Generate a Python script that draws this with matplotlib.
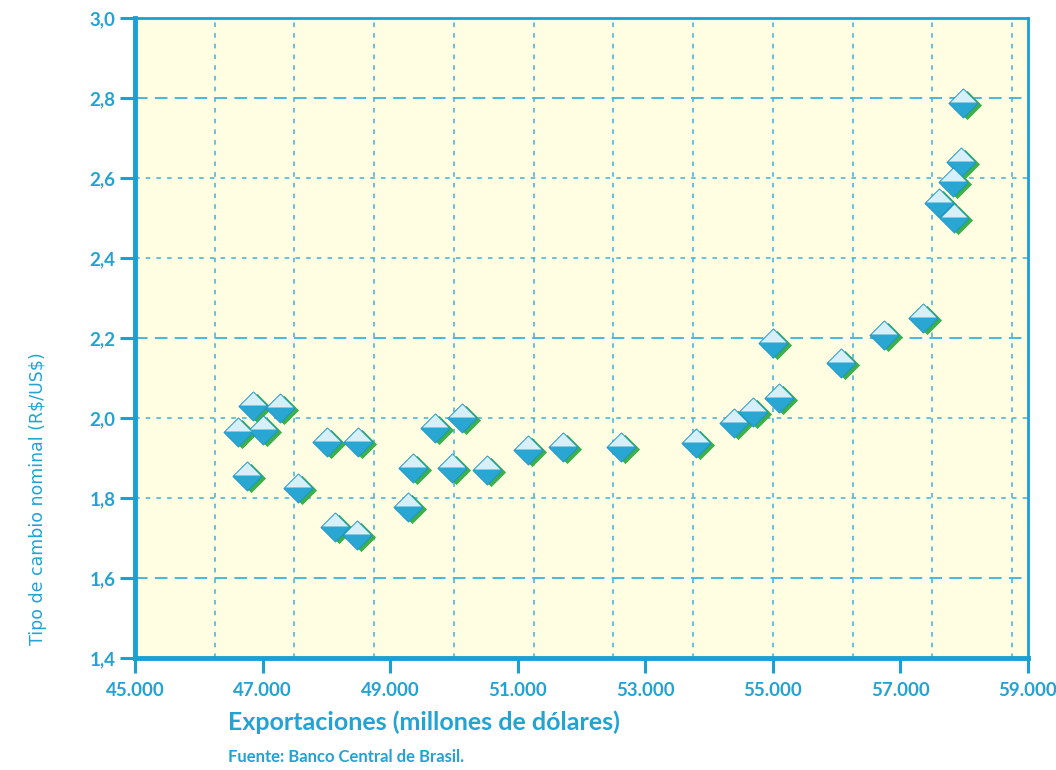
import matplotlib
matplotlib.use("Agg")
import matplotlib.pyplot as plt
from matplotlib.path import Path
from matplotlib.transforms import offset_copy
from matplotlib.ticker import FixedLocator, FuncFormatter

# Exports (million USD) vs nominal exchange rate (R$/US$)
exports = [46852, 47276, 46617, 47009, 48014, 48500, 49709, 50133,
           46758, 47558, 49363, 49976, 50525, 51168, 51718, 52613,
           53790, 54386, 54684, 55092, 54998, 56066, 56741, 57353,
           57981, 57950, 57824, 57604, 57839, 48139, 48485, 49285]
exchange_rate = [2.03, 2.025, 1.965, 1.97, 1.94, 1.94, 1.975, 2.00,
                 1.855, 1.825, 1.875, 1.875, 1.87, 1.92, 1.928, 1.928,
                 1.938, 1.988, 2.015, 2.05, 2.188, 2.138, 2.208, 2.25,
                 2.788, 2.64, 2.59, 2.538, 2.50, 1.728, 1.708, 1.778]

x_ticks = [45000, 47000, 49000, 51000, 53000, 55000, 57000, 59000]
y_ticks = [1.4, 1.6, 1.8, 2.0, 2.2, 2.4, 2.6, 2.8, 3.0]
x_grid = [46250, 47500, 48750, 50000, 51250, 52500, 53750, 55000,
          56250, 57500, 58750]

title_x = "Exportaciones (millones de dólares)"
title_y = r"Tipo de cambio nominal (R\$/US\$)"
source = "Fuente: Banco Central de Brasil."

BLUE = "#1aa0d4"
GRID = "#3cb2dc"
TEXT = "#22a3d3"

fig = plt.figure(figsize=(10.56, 7.70), dpi=100)
ax = fig.add_axes([0.1278, 0.1455, 0.8456, 0.8311])
ax.set_facecolor("#fffee3")
ax.set_xlim(45000, 59000)
ax.set_ylim(1.4, 3.0)

# grid
for g in x_grid:
    ax.axvline(g, color=GRID, lw=1.1, dashes=(3, 4), zorder=1)
for v in y_ticks[1:-1]:
    if round(v, 1) in (1.6, 2.2, 2.8):
        ax.axhline(v, color=GRID, lw=1.3, dashes=(7, 4), zorder=1)
    else:
        ax.axhline(v, color=GRID, lw=1.1, dashes=(3, 4), zorder=1)

# spines
for side in ("left", "bottom"):
    ax.spines[side].set_color(BLUE)
    ax.spines[side].set_linewidth(3.5)
for side in ("top", "right"):
    ax.spines[side].set_color(BLUE)
    ax.spines[side].set_linewidth(2.0)

ax.xaxis.set_major_locator(FixedLocator(x_ticks))
ax.yaxis.set_major_locator(FixedLocator(y_ticks))
ax.xaxis.set_major_formatter(FuncFormatter(lambda v, p: f"{int(v):,}".replace(",", ".")))
ax.yaxis.set_major_formatter(FuncFormatter(lambda v, p: f"{v:.1f}".replace(".", ",")))
ax.tick_params(axis="both", colors=BLUE, length=11, width=2.2, direction="out",
               labelcolor=TEXT, labelsize=13.5)
ax.tick_params(axis="x", pad=6)
ax.tick_params(axis="y", pad=3)
for lab in ax.get_xticklabels() + ax.get_yticklabels():
    lab.set_fontfamily("Lato")
    lab.set_fontweight("bold")

# diamond markers: green shadow, blue body, pale upper half
diamond = Path([(-1, 0), (0, 1), (1, 0), (0, -1), (-1, 0)],
               [Path.MOVETO, Path.LINETO, Path.LINETO, Path.LINETO, Path.CLOSEPOLY])
upper = Path([(-1, 0), (0, 1), (1, 0), (-1, 0)],
             [Path.MOVETO, Path.LINETO, Path.LINETO, Path.CLOSEPOLY])
shadow_tr = offset_copy(ax.transData, fig=fig, x=4, y=-2, units="dots")
ax.plot(exports, exchange_rate, ls="none", marker=diamond, ms=21,
        mfc="#3cb04a", mec="none", transform=shadow_tr, zorder=3, clip_on=False)
ax.plot(exports, exchange_rate, ls="none", marker=diamond, ms=21,
        mfc="#2aa6d2", mec="#1d93c4", mew=0.6, zorder=4, clip_on=False)
upper_tr = offset_copy(ax.transData, fig=fig, x=0, y=1.0, units="dots")
ax.plot(exports, exchange_rate, ls="none", marker=upper, ms=18.5,
        mfc="#d6eff8", mec="none", transform=upper_tr, zorder=5, clip_on=False)

fig.text(0.216, 0.062, title_x, color=TEXT, fontsize=18, fontweight="bold",
         family="Lato", ha="left", va="center")
fig.text(0.036, 0.352, title_y, color=TEXT, fontsize=12.5, rotation=90,
         family="DejaVu Sans", ha="center", va="center")
fig.text(0.216, 0.017, source, color=TEXT, fontsize=12, fontweight="bold",
         family="Lato", ha="left", va="center")

fig.savefig("out.png", dpi=100, facecolor="white")
